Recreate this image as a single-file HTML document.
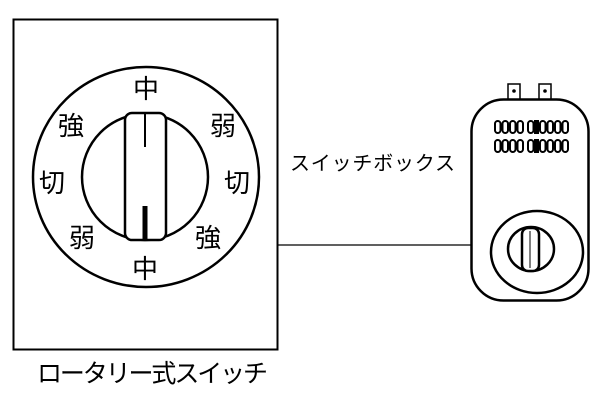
<!DOCTYPE html>
<html><head><meta charset="utf-8"><style>
body{margin:0;background:#fff;}
svg text{font-family:"Liberation Sans","Noto Sans CJK JP",sans-serif;fill:#000;}
</style></head><body>
<svg width="600" height="400" viewBox="0 0 600 400" xmlns="http://www.w3.org/2000/svg">
<defs>
<g id="o"><rect x="0" y="0" width="5.5" height="12" rx="2.7" fill="#fff" stroke="#000" stroke-width="2"/></g>
<g id="row">
<use href="#o" x="0"/><use href="#o" x="7.5"/><use href="#o" x="15"/><use href="#o" x="22.5"/>
<use href="#o" x="33"/><rect x="39" y="-1" width="5" height="14" fill="#000"/>
<use href="#o" x="45"/><use href="#o" x="52.5"/><use href="#o" x="60"/><use href="#o" x="67.5"/>
</g>
</defs>
<rect x="13.5" y="19.5" width="264" height="330" fill="none" stroke="#000" stroke-width="2"/>
<ellipse cx="146" cy="177" rx="113" ry="110" fill="none" stroke="#000" stroke-width="2.5"/>
<circle cx="145" cy="177" r="63" fill="none" stroke="#000" stroke-width="2.5"/>
<rect x="125" y="113" width="41" height="127" rx="7" fill="#fff" stroke="#000" stroke-width="2.5"/>
<line x1="145" y1="114" x2="145" y2="147" stroke="#000" stroke-width="2"/>
<line x1="145" y1="206" x2="145" y2="240" stroke="#000" stroke-width="5"/>
<g font-size="26" text-anchor="middle">
<text x="146" y="98">中</text>
<text x="71" y="135">強</text>
<text x="223" y="135">弱</text>
<text x="52" y="192">切</text>
<text x="237" y="192">切</text>
<text x="82" y="247">弱</text>
<text x="208" y="247">強</text>
<text x="145" y="278">中</text>
</g>
<text x="37" y="382" font-size="25" textLength="231">ロータリー式スイッチ</text>
<text x="290" y="170" font-size="20" textLength="165">スイッチボックス</text>
<line x1="278" y1="245" x2="492" y2="245" stroke="#000" stroke-width="1.2"/>
<rect x="508" y="84" width="12" height="16" fill="#fff" stroke="#000" stroke-width="1.5"/>
<rect x="539" y="84" width="12" height="16" fill="#fff" stroke="#000" stroke-width="1.5"/>
<circle cx="514" cy="91" r="1.8"/><circle cx="545" cy="91" r="1.8"/>
<rect x="471.5" y="99.5" width="117" height="201" rx="32" fill="#fff" stroke="#000" stroke-width="2.5"/>
<use href="#row" x="495" y="121"/>
<use href="#row" x="495" y="140"/>
<ellipse cx="537" cy="252" rx="46" ry="41" fill="none" stroke="#000" stroke-width="2.5"/>
<ellipse cx="531" cy="249" rx="23" ry="22" fill="none" stroke="#000" stroke-width="2.5"/>
<rect x="522" y="228" width="17" height="43" rx="6" fill="#fff" stroke="#000" stroke-width="2.5"/>
<line x1="530" y1="231" x2="530" y2="268" stroke="#000" stroke-width="1"/>
</svg>
</body></html>
